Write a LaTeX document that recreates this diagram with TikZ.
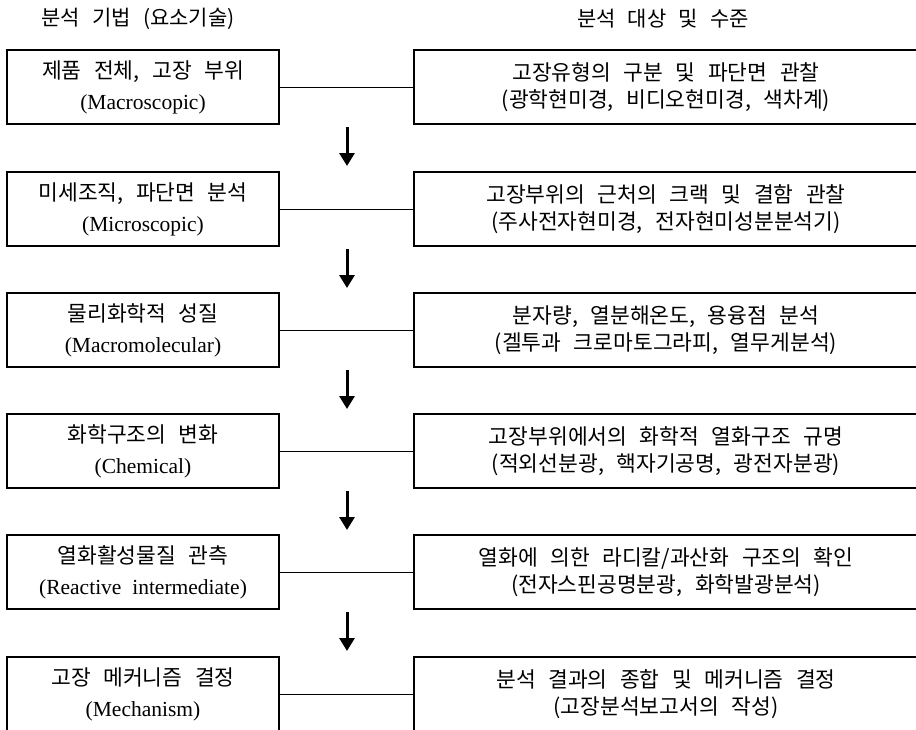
\documentclass[tikz,border=0pt]{standalone}
\usepackage{fontspec}
\setmainfont{Liberation Serif}
\newfontfamily\kr[WordSpace=2.6]{Noto Sans CJK KR}
\usetikzlibrary{arrows.meta}
\tikzset{
  lbox/.style={draw, line width=1.2pt, minimum width=272pt, minimum height=74pt,
    inner sep=0pt, align=center, font=\fontsize{21.5}{31}\selectfont},
  rbox/.style={draw, line width=1.2pt, minimum width=504pt, minimum height=74pt,
    inner sep=0pt, align=center, font=\fontsize{21.5}{27}\selectfont},
  link/.style={line width=1pt},
  flow/.style={line width=3pt, -{Triangle[length=13pt,width=15pt]}},
  ttl/.style={font=\fontsize{21}{24}\kr, inner sep=0pt}
}
\newcommand{\K}[1]{{\fontsize{21.5}{27}\kr #1}}
\begin{document}
\begin{tikzpicture}[x=1pt,y=-1pt]
\useasboundingbox[fill=white] (0,0) rectangle (916,729);
\clip (0,0) rectangle (916,729);

\node[ttl] (tl) at (138,19) {분석 기법 (요소기술)};
\node[ttl] (tr) at (663,19) {분석 대상 및 수준};

% left column
\node[lbox] (l1) at (143,87)  {\K{제품 전체, 고장 부위}\\(Macroscopic)};
\node[lbox] (l2) at (143,209) {\K{미세조직, 파단면 분석}\\(Microscopic)};
\node[lbox] (l3) at (143,330) {\K{물리화학적 성질}\\(Macromolecular)};
\node[lbox] (l4) at (143,451) {\K{화학구조의 변화}\\(Chemical)};
\node[lbox] (l5) at (143,572) {\K{열화활성물질 관측}\\(Reactive\ \ intermediate)};
\node[lbox] (l6) at (143,694) {\K{고장 메커니즘 결정}\\(Mechanism)};

% right column
\node[rbox] (r1) at (666,87)  {\K{고장유형의 구분 및 파단면 관찰}\\\K{(광학현미경, 비디오현미경, 색차계)}};
\node[rbox] (r2) at (666,209) {\K{고장부위의 근처의 크랙 및 결함 관찰}\\\K{(주사전자현미경, 전자현미성분분석기)}};
\node[rbox] (r3) at (666,330) {\K{분자량, 열분해온도, 용융점 분석}\\\K{(겔투과 크로마토그라피, 열무게분석)}};
\node[rbox] (r4) at (666,451) {\K{고장부위에서의 화학적 열화구조 규명}\\\K{(적외선분광, 핵자기공명, 광전자분광)}};
\node[rbox] (r5) at (666,572) {\K{열화에 의한 라디칼/과산화 구조의 확인}\\\K{(전자스핀공명분광, 화학발광분석)}};
\node[rbox] (r6) at (666,694) {\K{분석 결과의 종합 및 메커니즘 결정}\\\K{(고장분석보고서의 작성)}};

% connectors
\foreach \i in {1,...,6} {
  \draw[link] (l\i.east) -- (r\i.west);
}

% flow arrows
\foreach \i/\y in {1/148,2/270,3/391,4/512,5/633} {
  \coordinate (a\i s) at (347,\y-21);
  \coordinate (a\i e) at (347,\y+18);
  \draw[flow] (a\i s) -- (a\i e);
}
\end{tikzpicture}
\end{document}
